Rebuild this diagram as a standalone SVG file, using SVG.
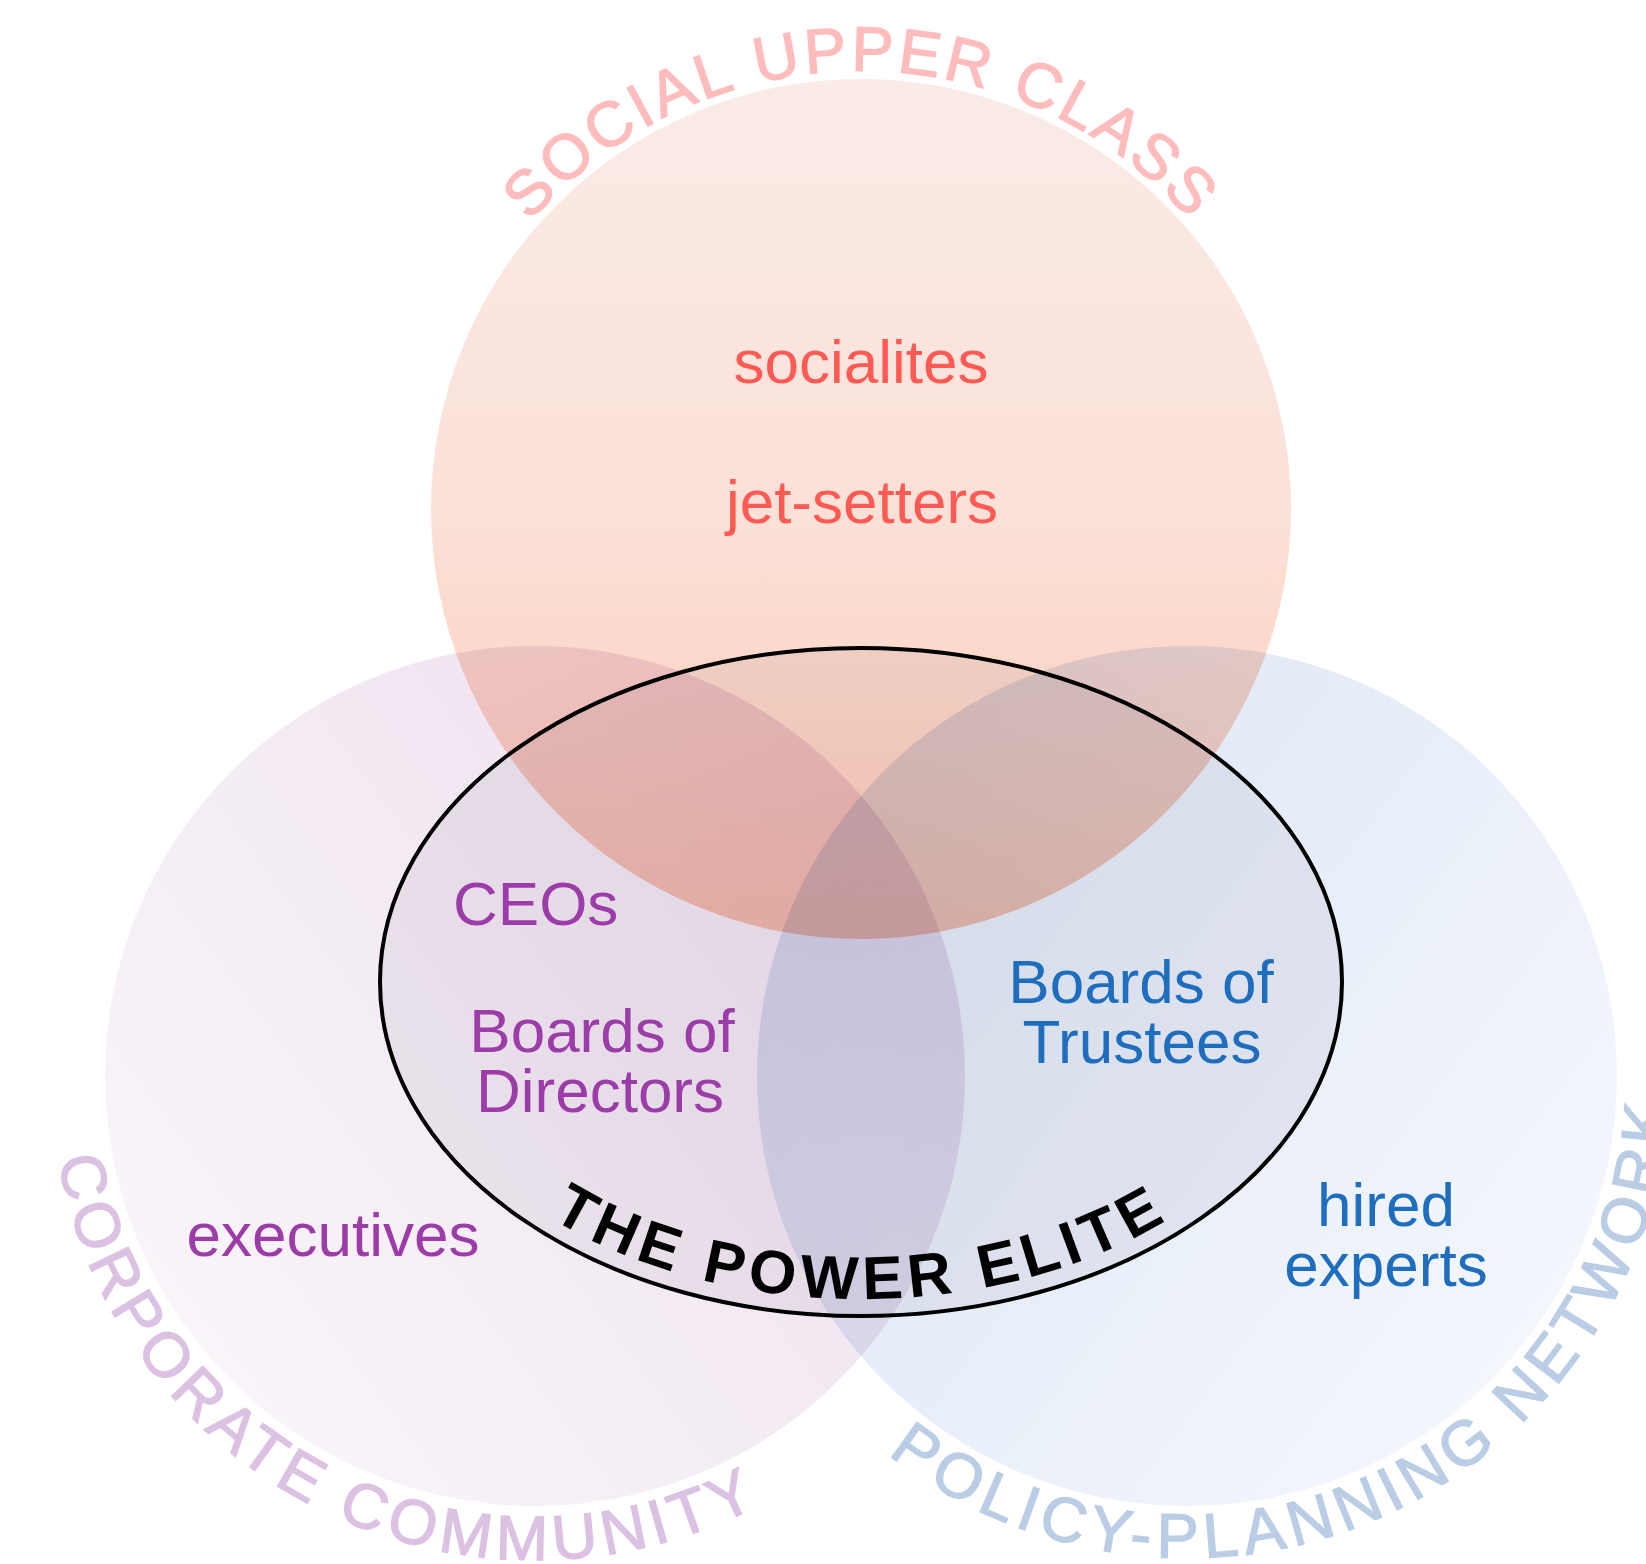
<svg xmlns="http://www.w3.org/2000/svg" width="1646" height="1564" viewBox="0 0 1646 1564">
  <style>
    .blend { mix-blend-mode: multiply; }
    .lbl { font-family: "Liberation Sans", Arial, sans-serif; font-size: 62px; }
    .arc { font-family: "Liberation Sans", Arial, sans-serif; font-size: 63px; stroke-width: 1.4px; }
    .social { fill: #ff5a54; }
    .corp { fill: #9c3ca8; }
    .policy { fill: #1f6dbd; }
  </style>
  <defs>
    <linearGradient id="gTop" x1="0" y1="0" x2="0" y2="1">
      <stop offset="0" stop-color="#faebe7"/>
      <stop offset="0.5" stop-color="#fbe1d8"/>
      <stop offset="1" stop-color="#fcc8b3"/>
    </linearGradient>
    <linearGradient id="gLeft" x1="0.1" y1="0.85" x2="0.9" y2="0.25">
      <stop offset="0" stop-color="#f9f5f9"/>
      <stop offset="1" stop-color="#eee1ef"/>
    </linearGradient>
    <linearGradient id="gRight" x1="0.9" y1="0.85" x2="0.1" y2="0.25">
      <stop offset="0" stop-color="#f4f7fc"/>
      <stop offset="1" stop-color="#dee7f5"/>
    </linearGradient>
    <path id="pTop" d="M 423 509 A 438 438 0 0 1 1299 509"/>
    <path id="pLeft" d="M 264.4 674.7 A 484 484 0 1 0 1017.8 1042.2"/>
    <path id="pRight" d="M 707.2 1029.8 A 482 482 0 1 0 1466.9 683.6"/>
    <path id="pElite" d="M 397 982 A 464 317 0 0 0 1325 982"/>
  </defs>
  <rect x="0" y="0" width="1646" height="1564" fill="#ffffff"/>

  <g id="social-upper-class">
    <circle class="blend" cx="861" cy="509" r="430" fill="url(#gTop)"/>
  </g>
  <g id="corporate-community">
    <circle class="blend" cx="535" cy="1076" r="430" fill="url(#gLeft)"/>
  </g>
  <g id="policy-planning-network">
    <circle class="blend" cx="1187" cy="1076" r="430" fill="url(#gRight)"/>
  </g>
  <g id="power-elite">
    <ellipse class="blend" cx="861" cy="982" rx="481" ry="334" fill="#f3f2f4"/>
    <ellipse cx="861" cy="982" rx="481" ry="334" fill="none" stroke="#000" stroke-width="4"/>
    <text font-family="Liberation Sans, Arial, sans-serif" font-size="61" font-weight="bold" letter-spacing="6" fill="#000">
      <textPath href="#pElite" startOffset="50%" text-anchor="middle">THE POWER ELITE</textPath>
    </text>
  </g>

  <g id="labels-social">
    <text class="arc" fill="#ffbcbc" stroke="#ffbcbc" style="letter-spacing:3.5px"><textPath href="#pTop" startOffset="50%" text-anchor="middle">SOCIAL UPPER CLASS</textPath></text>
    <text class="lbl social" x="861" y="383" text-anchor="middle">socialites</text>
    <text class="lbl social" x="862" y="523" text-anchor="middle">jet-setters</text>
  </g>
  <g id="labels-corporate">
    <text class="arc" fill="#dcc2e2" stroke="#dcc2e2" style="letter-spacing:6px"><textPath href="#pLeft" startOffset="50%" text-anchor="middle">CORPORATE COMMUNITY</textPath></text>
    <text class="lbl corp" x="453" y="925">CEOs</text>
    <text class="lbl corp" x="602" y="1052" text-anchor="middle">Boards of</text>
    <text class="lbl corp" x="600" y="1112" text-anchor="middle">Directors</text>
    <text class="lbl corp" x="333" y="1256" text-anchor="middle">executives</text>
  </g>
  <g id="labels-policy">
    <text class="arc" fill="#bacde5" stroke="#bacde5" style="letter-spacing:6.5px"><textPath href="#pRight" startOffset="50%" text-anchor="middle">POLICY-PLANNING NETWORK</textPath></text>
    <text class="lbl policy" x="1141" y="1003" text-anchor="middle">Boards of</text>
    <text class="lbl policy" x="1142" y="1063" text-anchor="middle">Trustees</text>
    <text class="lbl policy" x="1386" y="1226" text-anchor="middle">hired</text>
    <text class="lbl policy" x="1386" y="1286" text-anchor="middle">experts</text>
  </g>
  <g id="connectors"/>
</svg>
